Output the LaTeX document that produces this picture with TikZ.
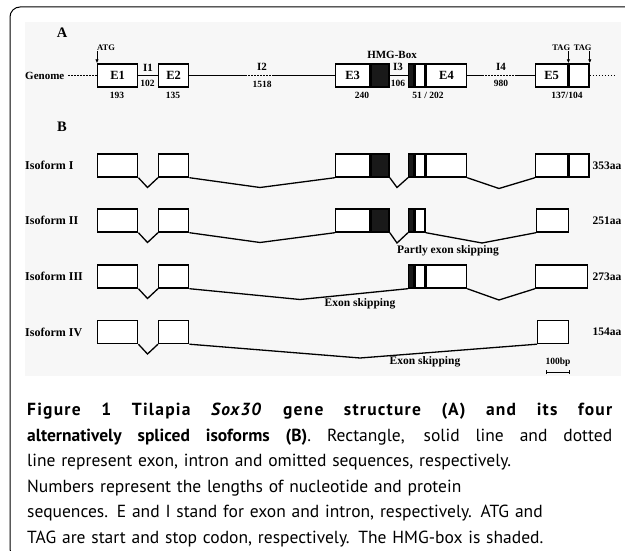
\documentclass[tikz,border=0pt]{standalone}
\usepackage{fontspec}
\setmainfont{Liberation Serif}
\newfontfamily\capfont{PT Sans}
\usetikzlibrary{arrows.meta}

\newcommand\fullline[2]{\leavevmode\hbox to 585pt{\spaceskip=#1 plus 1fil\relax #2}}

\tikzset{
    exon/.style={draw, line width=1.4pt, fill=white, inner sep=0pt, minimum height=23pt, anchor=west,
        font=\bfseries\fontsize{12.5}{12.5}\selectfont},
    hmg/.style={exon, fill=black!90},
    intron/.style={line width=1.3pt},
    omitted/.style={line width=1.7pt, dash pattern=on 1.6pt off 1.4pt},
    small/.style={inner sep=1pt, font=\bfseries\fontsize{9.5}{9.5}\selectfont},
    ilab/.style={inner sep=0pt, font=\bfseries\fontsize{11}{11}\selectfont},
    rowlab/.style={inner sep=0pt, anchor=west, font=\bfseries\fontsize{12}{12}\selectfont},
    aalab/.style={inner sep=0pt, font=\bfseries\fontsize{11.5}{11.5}\selectfont},
    codon/.style={-{Latex[length=4pt,width=3.5pt]}, line width=1pt}
}

\begin{document}
\begin{tikzpicture}[x=1pt, y=-1pt]

    \useasboundingbox (0,0) rectangle (625,551);
    \draw[line width=1pt, rounded corners=10pt] (640,7) -- (10,7) -- (10,559) -- (640,559);
    \fill[black!3] (25,22) rectangle (621,376);

    % panel A: the genome
    \node[inner sep=0pt, font=\bfseries\fontsize{14.5}{14.5}\selectfont] (pa) at (62,33) {A};
    \node[rowlab, font=\bfseries\fontsize{11}{11}\selectfont] (genome) at (25,75.5) {Genome};

    \coordinate (gl) at (68,75.5);
    \node[exon, minimum width=40pt] (a1) at (97,75.5) {E1};
    \node[exon, minimum width=30pt] (a2) at (158,75.5) {E2};
    \coordinate (i2l) at (245,75.5);
    \coordinate (i2r) at (274,75.5);
    \node[exon, minimum width=34pt] (a3) at (335,75.5) {E3};
    \node[hmg, minimum width=18pt] (a3h) at (a3.east) {};
    \node[hmg, minimum width=5pt] (a4h) at (408,75.5) {};
    \node[exon, minimum width=10pt] (a4m) at (a4h.east) {};
    \node[exon, minimum width=40pt] (a4) at (a4m.east) {E4};
    \coordinate (i4l) at (482,75.5);
    \coordinate (i4r) at (515,75.5);
    \node[exon, minimum width=32pt] (a5) at (535,75.5) {E5};
    \node[exon, minimum width=20pt] (a5t) at (a5.east) {};
    \coordinate (gr) at (615,75.5);

    \draw[omitted] (gl) -- (a1.west);
    \draw[intron] (a1.east) -- (a2.west);
    \draw[intron] (a2.east) -- (i2l);
    \draw[omitted] (i2l) -- (i2r);
    \draw[intron] (i2r) -- (a3.west);
    \draw[intron] (a3h.east) -- (a4h.west);
    \draw[intron] (a4.east) -- (i4l);
    \draw[omitted] (i4l) -- (i4r);
    \draw[intron] (i4r) -- (a5.west);
    \draw[omitted] (a5t.east) -- (gr);

    % start and stop codons
    \node[small, anchor=south west, font=\bfseries\fontsize{8.5}{8.5}\selectfont] (atg) at ([xshift=-1pt, yshift=12pt]a1.north west) {ATG};
    \node[small, anchor=south east, font=\bfseries\fontsize{8.5}{8.5}\selectfont] (tag1) at ([xshift=3pt, yshift=12pt]a5.north east) {TAG};
    \node[small, anchor=south east, font=\bfseries\fontsize{8.5}{8.5}\selectfont] (tag2) at ([xshift=3pt, yshift=12pt]a5t.north east) {TAG};
    \draw[codon] (atg.south -| a1.north west) -- (a1.north west);
    \draw[codon] (tag1.south -| a5.north east) -- (a5.north east);
    \draw[codon] (tag2.south -| a5t.north east) -- (a5t.north east);

    % lengths
    \node[ilab] (l1) at (148,68) {I1};
    \node[small] (n1) at (147.5,83) {102};
    \node[ilab] (l2) at (262,67) {I2};
    \node[small] (n2) at (262,84) {1518};
    \node[ilab] (l3) at (398,67) {I3};
    \node[small] (n3) at (398,83) {106};
    \node[ilab] (l4) at (501,67) {I4};
    \node[small] (n4) at (501,83) {980};
    \node[small] (m1) at (117,95) {193};
    \node[small] (m2) at (173,95) {135};
    \node[small] (m3) at (362,95) {240};
    \node[small] (m4) at (428,95) {51 / 202};
    \node[small] (m5) at (567,95) {137/104};
    \node[ilab] (hmgbox) at (392,55) {HMG-Box};

    % panel B: the isoforms
    \node[inner sep=0pt, font=\bfseries\fontsize{14.5}{14.5}\selectfont] (pb) at (62,127) {B};

    % isoform I
    \node[rowlab] (iso1) at (25,165.5) {Isoform I};
    \node[exon, minimum width=40pt] (b1) at (97,165.5) {};
    \node[exon, minimum width=30pt] (b2) at (158,165.5) {};
    \node[exon, minimum width=34pt] (b3) at (335,165.5) {};
    \node[hmg, minimum width=18pt] (b3h) at (b3.east) {};
    \node[hmg, minimum width=5pt] (b4h) at (408,165.5) {};
    \node[exon, minimum width=10pt] (b4m) at (b4h.east) {};
    \node[exon, minimum width=40pt] (b4) at (b4m.east) {};
    \node[exon, minimum width=32pt] (b5) at (535,165.5) {};
    \node[exon, minimum width=20pt] (b5t) at (b5.east) {};
    \coordinate (v11) at (147.5,187.5);
    \coordinate (v12) at (260,187.5);
    \coordinate (v13) at (397,187.5);
    \coordinate (v14) at (499,188.5);
    \draw[intron] (b1.south east) -- (v11) -- (b2.south west);
    \draw[intron] (b2.south east) -- (v12) -- (b3.south west);
    \draw[intron] (b3h.south east) -- (v13) -- (b4h.south west);
    \draw[intron] (b4.south east) -- (v14) -- (b5.south west);
    \node[aalab] (aa1) at (607,165.5) {353aa};

    % isoform II
    \node[rowlab] (iso2) at (25,220.5) {Isoform II};
    \node[exon, minimum width=40pt] (c1) at (97,220.5) {};
    \node[exon, minimum width=30pt] (c2) at (158,220.5) {};
    \node[exon, minimum width=34pt] (c3) at (335,220.5) {};
    \node[hmg, minimum width=18pt] (c3h) at (c3.east) {};
    \node[hmg, minimum width=5pt] (c4h) at (408,220.5) {};
    \node[exon, minimum width=10pt] (c4m) at (c4h.east) {};
    \node[exon, minimum width=32pt] (c5) at (536,220.5) {};
    \coordinate (v21) at (147.5,242.5);
    \coordinate (v22) at (260,242.5);
    \coordinate (v23) at (397,243);
    \coordinate (v24) at (482,243);
    \draw[intron] (c1.south east) -- (v21) -- (c2.south west);
    \draw[intron] (c2.south east) -- (v22) -- (c3.south west);
    \draw[intron] (c3h.south east) -- (v23) -- (c4h.south west);
    \draw[intron] (c4m.south east) -- (v24) -- (c5.south west);
    \node[aalab] (aa2) at (607,220.5) {251aa};
    \node[aalab] (skip2) at (448,251) {Partly exon skipping};

    % isoform III
    \node[rowlab] (iso3) at (25,276.5) {Isoform III};
    \node[exon, minimum width=40pt] (d1) at (97,276.5) {};
    \node[exon, minimum width=30pt] (d2) at (158,276.5) {};
    \node[hmg, minimum width=5pt] (d4h) at (408,276.5) {};
    \node[exon, minimum width=10pt] (d4m) at (d4h.east) {};
    \node[exon, minimum width=40pt] (d4) at (d4m.east) {};
    \node[exon, minimum width=52pt] (d5) at (535,276.5) {};
    \coordinate (v31) at (147.5,298.5);
    \coordinate (v32) at (300,299.5);
    \coordinate (v33) at (499,300);
    \draw[intron] (d1.south east) -- (v31) -- (d2.south west);
    \draw[intron] (d2.south east) -- (v32) -- (d4h.south west);
    \draw[intron] (d4.south east) -- (v33) -- (d5.south west);
    \node[aalab] (aa3) at (607,276.5) {273aa};
    \node[aalab] (skip3) at (360,304) {Exon skipping};

    % isoform IV
    \node[rowlab] (iso4) at (25,332) {Isoform IV};
    \node[exon, minimum width=40pt] (e1) at (97,332) {};
    \node[exon, minimum width=30pt] (e2) at (158,332) {};
    \node[exon, minimum width=31pt] (e5) at (537,332) {};
    \coordinate (v41) at (147.5,354);
    \coordinate (v42) at (360,358);
    \draw[intron] (e1.south east) -- (v41) -- (e2.south west);
    \draw[intron] (e2.south east) -- (v42) -- (e5.south west);
    \node[aalab] (aa4) at (607,332) {154aa};
    \node[aalab] (skip4) at (425,362) {Exon skipping};

    % scale bar
    \node[small] (bp) at (558,362) {100bp};
    \coordinate (sb1) at (546,372);
    \coordinate (sb2) at (570,372);
    \draw[line width=1pt, {Bar[width=4pt]}-{Bar[width=4pt]}] (sb1) -- (sb2);

    % caption
    \node[anchor=north west, inner sep=0pt, text width=585pt, align=left,
        font=\capfont\fontsize{17.5}{25.5}\selectfont] (cap) at (27,403) {%
        \fullline{4pt}{\bfseries\addfontfeatures{LetterSpace=7}Figure 1 Tilapia \textit{Sox30} gene structure (A) and its four}\\
        \fullline{4pt}{\textbf{alternatively spliced isoforms (B)}. Rectangle, solid line and dotted}\\
        line represent exon, intron and omitted sequences, respectively.\\
        Numbers represent the lengths of nucleotide and protein\\
        sequences. E and I stand for exon and intron, respectively. ATG and\\
        TAG are start and stop codon, respectively. The HMG-box is shaded.};

\end{tikzpicture}
\end{document}
